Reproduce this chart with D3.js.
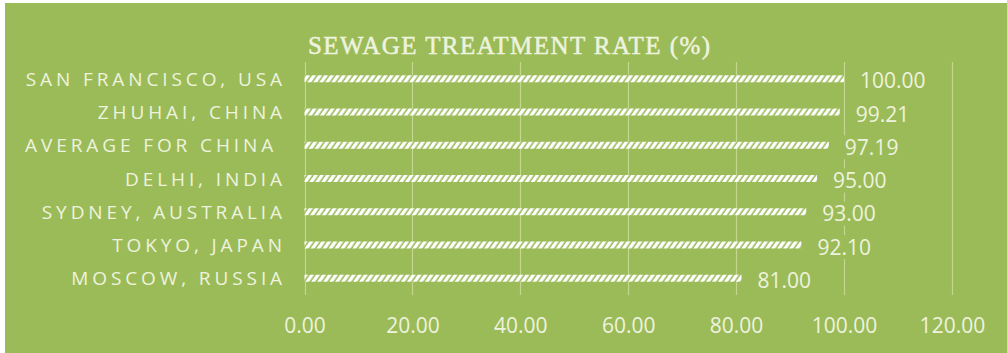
<!DOCTYPE html>
<html>
<head>
<meta charset="utf-8">
<script src="https://cdn.jsdelivr.net/npm/d3@7"></script>
<style>
  html, body { margin: 0; padding: 0; background: #ffffff; }
  svg { display: block; }
</style>
</head>
<body>
<svg id="chart" width="1007" height="353"></svg>
<script>
// Sewage treatment rate by city (%)
const categories = [
  "SAN FRANCISCO, USA",
  "ZHUHAI, CHINA",
  "AVERAGE FOR CHINA ",
  "DELHI, INDIA",
  "SYDNEY, AUSTRALIA",
  "TOKYO, JAPAN",
  "MOSCOW, RUSSIA"
];
const rates = [100.00, 99.21, 97.19, 95.00, 93.00, 92.10, 81.00];
const tickValues = [0, 20, 40, 60, 80, 100, 120];
const chartTitle = "SEWAGE TREATMENT RATE (%)";

const W = 1007, H = 353;
const bg = "#9bbb59";
const textColor = "#eef3df";
const gridColor = "#c3d78f";
const labelFont = "'Open Sans', sans-serif";
const fmt = d3.format(".2f");

const svg = d3.select("#chart");

// panel background
svg.append("rect")
  .attr("x", 5).attr("y", 3)
  .attr("width", W - 5).attr("height", H - 3)
  .attr("fill", bg);

// diagonal hatch used to fill the bars
const defs = svg.append("defs");
const pat = defs.append("pattern")
  .attr("id", "hatch")
  .attr("patternUnits", "userSpaceOnUse")
  .attr("width", 4.9).attr("height", 10)
  .attr("patternTransform", "rotate(35)");
pat.append("rect").attr("width", 4.9).attr("height", 10).attr("fill", bg);
pat.append("rect").attr("width", 3.3).attr("height", 10).attr("fill", "#ffffff");

const x = d3.scaleLinear().domain([0, 120]).range([304.5, 951.9]);
const y = d3.scaleBand().domain(categories).range([62, 295])
  .paddingInner(0.79).paddingOuter(0.4);

// vertical gridlines
const grid = svg.append("g").attr("class", "grid");
grid.selectAll("line")
  .data(tickValues)
  .join("line")
  .attr("x1", d => Math.round(x(d)) + 0.5)
  .attr("x2", d => Math.round(x(d)) + 0.5)
  .attr("y1", 62).attr("y2", 295)
  .attr("stroke", gridColor)
  .attr("stroke-width", 1.2);

// x axis tick labels
const xAxis = d3.axisBottom(x)
  .tickValues(tickValues)
  .tickFormat(fmt)
  .tickSize(0)
  .tickPadding(0);
const gx = svg.append("g")
  .attr("transform", "translate(0,318)")
  .call(xAxis);
gx.select(".domain").remove();
gx.selectAll("text")
  .attr("fill", textColor)
  .attr("font-family", labelFont)
  .attr("font-size", 21);

// category labels
const yAxis = d3.axisLeft(y).tickSize(0).tickPadding(0);
const gy = svg.append("g")
  .attr("transform", "translate(286,0)")
  .call(yAxis);
gy.select(".domain").remove();
gy.selectAll("text")
  .attr("fill", textColor)
  .attr("font-family", labelFont)
  .attr("font-size", 19)
  .attr("letter-spacing", 3.9)
  .attr("dy", "0.38em")
  .style("white-space", "pre");

// bars
svg.append("g")
  .selectAll("rect")
  .data(rates)
  .join("rect")
  .attr("x", x(0))
  .attr("y", (d, i) => y(categories[i]))
  .attr("width", d => x(d) - x(0))
  .attr("height", y.bandwidth())
  .attr("fill", "url(#hatch)");

// value labels, each on a panel-coloured box that hides the gridline behind it
const vl = svg.append("g").attr("class", "value-labels")
  .selectAll("g")
  .data(rates)
  .join("g")
  .attr("transform", (d, i) =>
    `translate(${x(d) + 16},${y(categories[i]) + y.bandwidth() / 2 + 2})`);
vl.append("rect")
  .attr("class", "label-box")
  .attr("x", -4).attr("y", -12)
  .attr("height", 24)
  .attr("width", 0)
  .attr("fill", bg);
vl.append("text")
  .attr("dy", "0.36em")
  .attr("fill", textColor)
  .attr("font-family", labelFont)
  .attr("font-size", 21)
  .text(d => fmt(d));
vl.each(function () {
  const g = d3.select(this);
  const w = g.select("text").node().getComputedTextLength();
  g.select("rect.label-box").attr("width", w + 8);
});

// title
svg.append("text")
  .attr("x", 308).attr("y", 54)
  .attr("textLength", 402)
  .attr("lengthAdjust", "spacing")
  .attr("fill", textColor)
  .attr("stroke", textColor)
  .attr("stroke-width", 0.5)
  .attr("font-family", "'Liberation Serif', serif")
  .attr("font-size", 25)
  .text(chartTitle);
</script>
</body>
</html>
